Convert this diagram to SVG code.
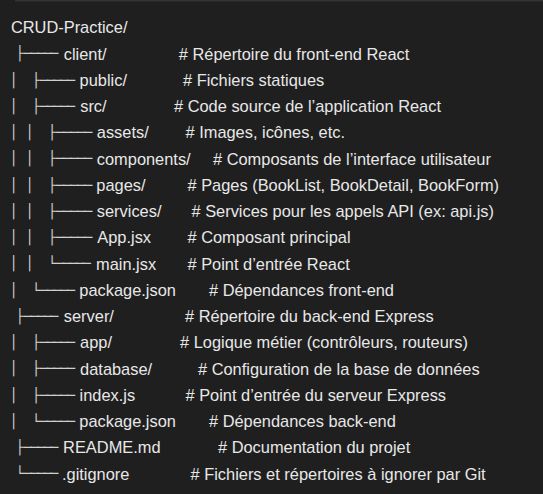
<svg xmlns="http://www.w3.org/2000/svg" width="543" height="494" viewBox="0 0 543 494">
<style>
.t{font-family:"Liberation Sans",Arial,sans-serif;font-size:16.4px;fill:#e8e8e8}
.g{font-family:"DejaVu Sans Mono",monospace;font-size:13.75px;fill:#cfcfcf}
</style>
<rect width="543" height="494" fill="#1f1f1f"/>
<rect x="15" y="0" width="528" height="1.5" fill="#343434"/>
<g id="connectors">
<text class="g" x="15.56 23.84 30.39 36.93 43.48 50.02" y="58.3">├─────</text>
<text class="g" x="9.26 31.66 39.94 46.64 53.33 60.03 66.72" y="84.6">│├─────</text>
<text class="g" x="9.26 31.66 39.94 46.64 53.33 60.03 66.72" y="110.85">│├─────</text>
<text class="g" x="9.26 25.36 47.66 55.94 62.96 69.98 77 84.02" y="137.1">││├─────</text>
<text class="g" x="9.26 25.36 47.66 55.94 62.96 69.98 77 84.02" y="163.35">││├─────</text>
<text class="g" x="9.26 25.36 47.66 55.94 62.96 69.98 77 84.02" y="189.6">││├─────</text>
<text class="g" x="9.26 25.36 47.66 55.94 62.96 69.98 77 84.02" y="215.85">││├─────</text>
<text class="g" x="9.26 25.36 47.66 55.94 62.96 69.98 77 84.02" y="242.1">││├─────</text>
<text class="g" x="9.26 25.36 47.66 55.94 62.56 69.18 75.8 82.42" y="268.35">││└─────</text>
<text class="g" x="9.26 31.66 39.94 46.64 53.33 60.03 66.72" y="294.6">│└─────</text>
<text class="g" x="15.56 23.84 30.39 36.93 43.48 50.02" y="320.85">├─────</text>
<text class="g" x="9.26 31.66 39.94 46.64 53.33 60.03 66.72" y="347.1">│├─────</text>
<text class="g" x="9.26 31.66 39.94 46.64 53.33 60.03 66.72" y="373.35">│├─────</text>
<text class="g" x="9.26 31.66 39.94 46.64 53.33 60.03 66.72" y="399.6">│├─────</text>
<text class="g" x="9.26 31.66 39.94 46.64 53.33 60.03 66.72" y="425.85">│└─────</text>
<text class="g" x="15.56 23.84 30.39 36.93 43.48 50.02" y="452.1">├─────</text>
<text class="g" x="15.56 23.84 30.39 36.93 43.48 50.02" y="478.35">└─────</text>
</g>
<g id="root"><text class="t" x="10.9" y="33.3">CRUD-Practice/</text></g>
<g id="client"><text class="t" x="63.7" y="59.55">client/</text><text class="t" x="178.8" y="59.55"># Répertoire du front-end React</text></g>
<g id="client-public"><text class="t" x="79.6" y="85.8">public/</text><text class="t" x="183" y="85.8"># Fichiers statiques</text></g>
<g id="client-src"><text class="t" x="80.2" y="112.05">src/</text><text class="t" x="174" y="112.05"># Code source de l’application React</text></g>
<g id="src-assets"><text class="t" x="96.8" y="138.3">assets/</text><text class="t" x="185.5" y="138.3"># Images, icônes, etc.</text></g>
<g id="src-components"><text class="t" x="96.8" y="164.55">components/</text><text class="t" x="213" y="164.55"># Composants de l’interface utilisateur</text></g>
<g id="src-pages"><text class="t" x="96.3" y="190.8">pages/</text><text class="t" x="187.5" y="190.8"># Pages (BookList, BookDetail, BookForm)</text></g>
<g id="src-services"><text class="t" x="96.8" y="217.05">services/</text><text class="t" x="191.5" y="217.05"># Services pour les appels API (ex: api.js)</text></g>
<g id="src-app"><text class="t" x="97.3" y="243.3">App.jsx</text><text class="t" x="187.5" y="243.3"># Composant principal</text></g>
<g id="src-main"><text class="t" x="96" y="269.55">main.jsx</text><text class="t" x="187.5" y="269.55"># Point d’entrée React</text></g>
<g id="client-package"><text class="t" x="79.3" y="295.8">package.json</text><text class="t" x="209" y="295.8"># Dépendances front-end</text></g>
<g id="server"><text class="t" x="63.8" y="322.05">server/</text><text class="t" x="185" y="322.05"># Répertoire du back-end Express</text></g>
<g id="server-app"><text class="t" x="80.1" y="348.3">app/</text><text class="t" x="180" y="348.3"># Logique métier (contrôleurs, routeurs)</text></g>
<g id="server-database"><text class="t" x="80.1" y="374.55">database/</text><text class="t" x="198" y="374.55"># Configuration de la base de données</text></g>
<g id="server-index"><text class="t" x="79.6" y="400.8">index.js</text><text class="t" x="185.5" y="400.8"># Point d’entrée du serveur Express</text></g>
<g id="server-package"><text class="t" x="79.3" y="427.05">package.json</text><text class="t" x="209" y="427.05"># Dépendances back-end</text></g>
<g id="readme"><text class="t" x="63.1" y="453.3">README.md</text><text class="t" x="218" y="453.3"># Documentation du projet</text></g>
<g id="gitignore"><text class="t" x="62" y="479.55">.gitignore</text><text class="t" x="190.5" y="479.55"># Fichiers et répertoires à ignorer par Git</text></g>
</svg>
